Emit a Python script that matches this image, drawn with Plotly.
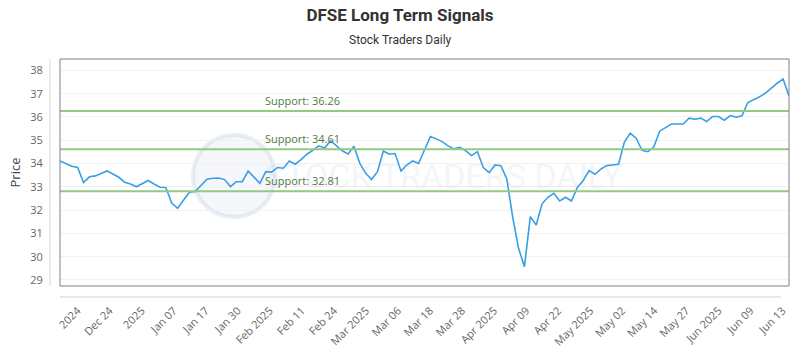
import plotly.graph_objects as go

title_text = "DFSE Long Term Signals"
subtitle_text = "Stock Traders Daily"

prices = [
    34.11, 34.01, 33.88, 33.83, 33.18, 33.43, 33.47, 33.57, 33.68, 33.55,
    33.41, 33.20, 33.12, 33.00, 33.15, 33.27, 33.12, 32.98, 32.97, 32.30,
    32.08, 32.44, 32.77, 32.80, 33.05, 33.33, 33.37, 33.38, 33.31, 33.01,
    33.22, 33.22, 33.68, 33.41, 33.15, 33.65, 33.63, 33.83, 33.80, 34.11,
    33.97, 34.17, 34.40, 34.57, 34.76, 34.67, 34.97, 34.77, 34.55, 34.41,
    34.74, 34.01, 33.58, 33.31, 33.65, 34.54, 34.40, 34.43, 33.68, 33.94,
    34.11, 34.00, 34.59, 35.16, 35.06, 34.94, 34.76, 34.63, 34.70, 34.55,
    34.34, 34.51, 33.83, 33.61, 33.94, 33.91, 33.34, 31.70, 30.36, 29.57,
    31.72, 31.36, 32.27, 32.55, 32.72, 32.39, 32.55, 32.39, 32.97, 33.27,
    33.70, 33.54, 33.76, 33.91, 33.94, 33.97, 34.92, 35.30, 35.09, 34.57,
    34.51, 34.71, 35.39, 35.56, 35.70, 35.70, 35.70, 35.95, 35.90, 35.95,
    35.80, 36.02, 36.02, 35.86, 36.06, 35.99, 36.05, 36.62, 36.73, 36.87,
    37.02, 37.24, 37.45, 37.63, 36.90,
]
idx = list(range(len(prices)))

tick_labels = ["2024", "Dec 24", "2025", "Jan 07", "Jan 17", "Jan 30", "Feb 2025",
               "Feb 11", "Feb 24", "Mar 2025", "Mar 06", "Mar 18", "Mar 28",
               "Apr 2025", "Apr 09", "Apr 22", "May 2025", "May 02", "May 14",
               "May 27", "Jun 2025", "Jun 09", "Jun 13"]
tick_pos = [3.0, 8.45, 13.9, 19.35, 24.8, 30.25, 35.7, 41.15, 46.6, 52.05, 57.5,
            62.95, 68.4, 73.85, 79.3, 84.75, 90.2, 95.65, 101.1, 106.55, 112.0,
            117.45, 122.9]

support_levels = [36.26, 34.61, 32.81]
y_ticks = [29, 30, 31, 32, 33, 34, 35, 36, 37, 38]

W, H = 800, 350
ML, MR, MT, MB = 60, 11, 59, 64
PW = W - ML - MR
PH = H - MT - MB

fig = go.Figure()
fig.add_trace(go.Scatter(
    x=idx, y=prices, mode="lines",
    line=dict(color="#3a9ee6", width=1.6),
    hoverinfo="y", showlegend=False,
))

shapes = []
for lv in support_levels:
    shapes.append(dict(type="line", xref="paper", yref="y", x0=0, x1=1, y0=lv, y1=lv,
                       line=dict(color="#93c983", width=2), layer="above"))
shapes.append(dict(type="circle", xref="paper", yref="paper",
                   x0=(193 - ML) / PW, x1=(275 - ML) / PW,
                   y0=(MT + PH - 217) / PH, y1=(MT + PH - 135) / PH,
                   line=dict(color="rgba(190,205,220,0.35)", width=4),
                   fillcolor="rgba(215,225,235,0.25)", layer="below"))
shapes.append(dict(type="rect", xref="paper", yref="paper", x0=0, x1=1, y0=0, y1=1,
                   line=dict(color="#808080", width=1), layer="above"))
shapes.append(dict(type="line", xref="paper", yref="paper",
                   x0=-10 / PW, x1=-10 / PW, y0=0, y1=1,
                   line=dict(color="#d8d8d8", width=1)))
shapes.append(dict(type="line", xref="paper", yref="paper",
                   x0=0, x1=(781 - ML) / PW, y0=-11 / PH, y1=-11 / PH,
                   line=dict(color="#d0d0d0", width=1)))

annotations = []
annotations.append(dict(xref="paper", yref="paper", x=(444 - ML) / PW,
                        y=(MT + PH - 176) / PH, text="STOCK TRADERS DAILY",
                        showarrow=False, xanchor="center", yanchor="middle",
                        font=dict(family="Roboto", size=34, color="rgba(170,180,190,0.14)")))
for lv in support_levels:
    annotations.append(dict(xref="paper", yref="y", x=(263 - ML) / PW, y=lv,
                            text=f"Support: {lv:.2f}", showarrow=False,
                            xanchor="left", yanchor="bottom", yshift=1,
                            font=dict(family="Open Sans", size=11, color="#4f7a3f")))
annotations.append(dict(xref="paper", yref="paper", x=(400 - ML) / PW, xanchor="center",
                        y=(MT + PH - 40) / PH, yanchor="middle", text=subtitle_text,
                        showarrow=False,
                        font=dict(family="Roboto", size=12, color="#333333")))

fig.update_layout(
    width=W, height=H,
    margin=dict(l=ML, r=MR, t=MT, b=MB, pad=0, autoexpand=False),
    paper_bgcolor="white", plot_bgcolor="white",
    title=dict(text=f"<b>{title_text}</b>", x=0.5, xanchor="center",
               y=1 - 15 / H, yanchor="middle", automargin=False,
               font=dict(family="Roboto", size=17, color="#333333")),
    shapes=shapes, annotations=annotations,
    xaxis=dict(range=[0, len(prices) - 1], tickmode="array", tickvals=tick_pos,
               ticktext=tick_labels, tickangle=-45, showgrid=False, zeroline=False,
               showline=False, ticks="outside", ticklen=13, tickcolor="rgba(0,0,0,0)",
               automargin=False,
               tickfont=dict(family="Open Sans", size=11, color="#666666")),
    yaxis=dict(range=[28.74, 38.49], tickmode="array", tickvals=y_ticks,
               showgrid=True, gridcolor="#f2f2f2", gridwidth=1, zeroline=False,
               showline=False, ticks="outside", ticklen=14, tickcolor="rgba(0,0,0,0)",
               automargin=False,
               tickfont=dict(family="Open Sans", size=11, color="#666666"),
               title=dict(text="Price", standoff=6,
                          font=dict(family="Open Sans", size=13, color="#444444"))),
)

fig.write_html("out.html")
